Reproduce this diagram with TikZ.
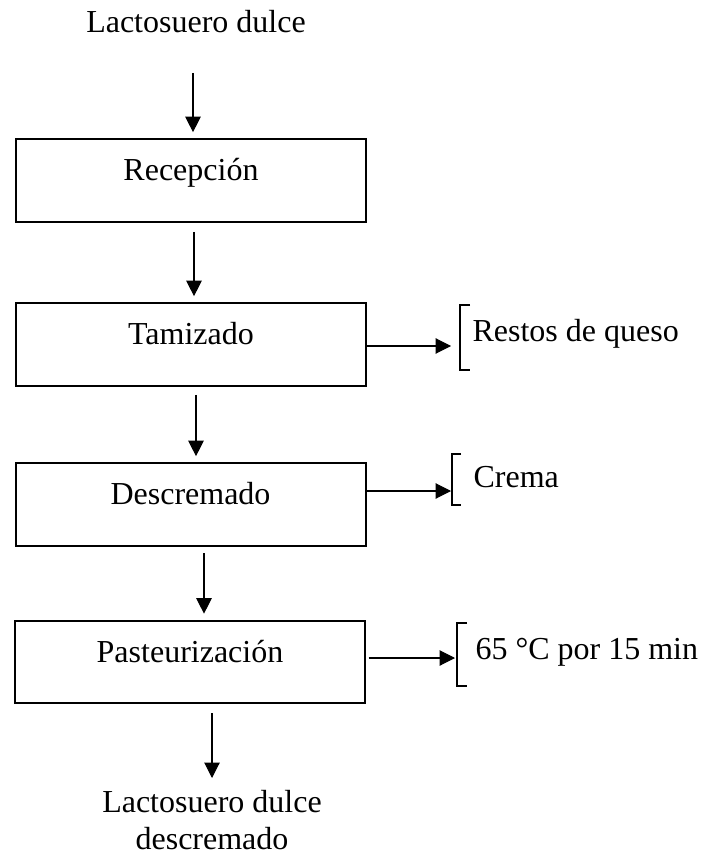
\documentclass[tikz,border=0pt]{standalone}
\usepackage{fontspec}
\setmainfont{Liberation Serif}
\usetikzlibrary{arrows.meta}

\tikzset{
  paso/.style={draw, line width=0.75pt, minimum width=131.25pt, minimum height=31.1pt,
    inner sep=0pt, text height=8pt, text depth=8pt},
  flecha/.style={-{Triangle[length=5.8pt,width=5.8pt]}, line width=0.4pt, shorten >=2.2pt},
  corchete/.style={line width=0.75pt},
  texto/.style={inner sep=0pt}
}

\begin{document}
\begin{tikzpicture}[x=0.375pt, y=-0.375pt, font=\fontsize{12}{13.9}\selectfont]
\useasboundingbox (0,0) rectangle (703,857);

% Entrada
\node[texto, anchor=base] (entrada) at (196,33) {Lactosuero dulce};

% Etapas del proceso
\node[paso] (recepcion) at (191,180.5) {Recepción};
\node[paso] (tamizado) at (191,344.5) {Tamizado};
\node[paso] (descremado) at (190.5,504.5) {Descremado};
\node[paso] (pasteurizacion) at (190,662) {Pasteurización};

% Salida
\node[texto, align=center, anchor=north] (salida) at (212,790) {Lactosuero dulce\\descremado};

% Flechas verticales
\coordinate (a1) at (193,73);
\coordinate (a2) at (194,232);
\coordinate (a3) at (196,395);
\coordinate (a4) at (204,553);
\coordinate (a5) at (212,713);
\draw[flecha] (a1) -- (a1 |- recepcion.north);
\draw[flecha] (a2) -- (a2 |- tamizado.north);
\draw[flecha] (a3) -- (a3 |- descremado.north);
\draw[flecha] (a4) -- (a4 |- pasteurizacion.north);
\draw[flecha, shorten >=4.5pt] (a5) -- (a5 |- salida.north);

% Salidas laterales
\coordinate (r1) at (451,346);
\coordinate (r2) at (451,491);
\coordinate (r3) at (455,658);
\draw[flecha, shorten >=0pt] (tamizado.east |- r1) -- (r1);
\draw[flecha, shorten >=0pt] (descremado.east |- r2) -- (r2);
\draw[flecha, shorten >=0pt, shorten <=1pt] (pasteurizacion.east |- r3) -- (r3);

% Corchetes
\draw[corchete] (470,305) -- (460,305) -- (460,370) -- (470,370);
\node[texto, anchor=base west] (restos) at (472,342) {Restos de queso};

\draw[corchete] (461,454) -- (452,454) -- (452,505) -- (461,505);
\node[texto, anchor=base west] (crema) at (473,487) {Crema};

\draw[corchete] (467,623) -- (457,623) -- (457,686) -- (467,686);
\node[texto, anchor=base west] (temperatura) at (475,659) {65 °C por 15 min};
\end{tikzpicture}
\end{document}
